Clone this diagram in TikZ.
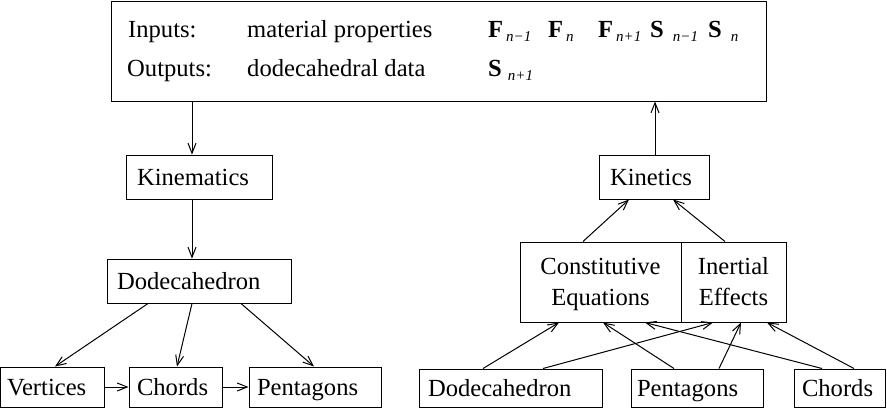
\documentclass[tikz,border=0pt]{standalone}
\usepackage{fontspec}
\setmainfont{Liberation Serif}
\usetikzlibrary{arrows.meta,calc}
\newcommand{\fs}{\fontsize{24.6}{31}\selectfont}
\newcommand{\subt}[1]{\raisebox{-4.5pt}{\fontsize{15}{15}\selectfont\itshape #1}}
\begin{document}
\begin{tikzpicture}[x=1pt,y=-1pt,
  box/.style={draw, line width=1pt, inner ysep=0pt, font=\fs},
  one/.style={text height=16.5pt, text depth=0pt},
  two/.style={text height=16.5pt, text depth=31pt, align=center, inner xsep=0pt},
  lbl/.style={anchor=base west, inner sep=0pt, font=\fs},
  arr/.style={line width=1pt, -{Straight Barb[length=10pt,width=8pt]}}]
\useasboundingbox (0,0) rectangle (887,408);

% top box
\node[box, minimum width=655pt, minimum height=100pt, inner sep=0pt] (top) at (438.5,51) {};
\node[lbl] (in) at (128,37) {Inputs:};
\node[lbl] (mp) at (247,37) {material properties};
\node[lbl] (out) at (127,76) {Outputs:};
\node[lbl] (dd) at (247,76) {dodecahedral data};
\node[lbl] (f1) at (488,37) {\textbf{F}\hspace{3pt}\subt{n−1}};
\node[lbl] (f2) at (548,37) {\textbf{F}\hspace{3pt}\subt{n}};
\node[lbl] (f3) at (598,37) {\textbf{F}\hspace{3pt}\subt{n+1}};
\node[lbl] (s1) at (650,37) {\textbf{S}\hspace{9pt}\subt{n−1}};
\node[lbl] (s2) at (708,37) {\textbf{S}\hspace{9pt}\subt{n}};
\node[lbl] (s3) at (488,76) {\textbf{S}\hspace{6pt}\subt{n+1}};

% left branch
\node[box, one, text width=124pt, inner xsep=11pt, minimum height=44pt] (kinem) at (199,177) {Kinematics};
\node[box, one, text width=164pt, inner xsep=10pt, minimum height=44pt] (dodL) at (199,281) {Dodecahedron};
\node[box, one, text width=90pt, inner xsep=7pt, minimum height=40pt] (vert) at (52,387) {Vertices};
\node[box, one, text width=77pt, inner xsep=8pt, minimum height=40pt] (chL) at (175.5,387) {Chords};
\node[box, one, text width=116pt, inner xsep=8pt, minimum height=40pt] (pentL) at (315,387) {Pentagons};

% right branch
\node[box, one, text width=88pt, inner xsep=11pt, minimum height=44pt] (kinet) at (654,177) {Kinetics};
\node[box, two, text width=161pt, minimum height=80pt] (const) at (600.5,282) {Constitutive\hspace*{7pt}\\Equations\hspace*{7pt}};
\node[box, two, text width=105pt, minimum height=80pt] (inert) at (733.5,282) {Inertial\hspace*{9pt}\\Effects\hspace*{9pt}};
\node[box, one, text width=165pt, inner xsep=9pt, minimum height=38pt] (dodR) at (510.5,388) {Dodecahedron};
\node[box, one, text width=120pt, inner xsep=6pt, minimum height=38pt] (pentR) at (697,388) {Pentagons};
\node[box, one, text width=75pt, inner xsep=8pt, minimum height=38pt] (chR) at (839.5,388) {Chords};

% left arrows
\draw[arr] ([xshift=-246.5pt]top.south) -- ([xshift=-7pt]kinem.north);
\draw[arr] ([xshift=-7pt]kinem.south) -- ([xshift=-7pt]dodL.north);
\draw[arr] ([xshift=-51pt]dodL.south) -- ([xshift=3pt]vert.north);
\draw[arr] ([xshift=-7pt]dodL.south) -- ([xshift=1.5pt]chL.north);
\draw[arr] ([xshift=42pt]dodL.south) -- ([xshift=-1pt]pentL.north);
\draw[arr] (vert.east) -- (chL.west);
\draw[arr] (chL.east) -- (pentL.west);

% right arrows
\draw[arr] ([xshift=1pt]kinet.north) -- ([xshift=216.5pt]top.south);
\draw[arr] ([xshift=-17.5pt]const.north) -- ([xshift=-25pt]kinet.south);
\draw[arr] ([xshift=-8.5pt]inert.north) -- ([xshift=19pt]kinet.south);
\draw[arr] ([xshift=-27.5pt]dodR.north) -- ([xshift=-41.5pt]const.south);
\draw[arr] ([xshift=32.5pt]dodR.north) -- ([xshift=-20.5pt]inert.south);
\draw[arr] ([xshift=-23pt]pentR.north) -- ([xshift=2.5pt]const.south);
\draw[arr] ([xshift=22pt]pentR.north) -- ([xshift=7.5pt]inert.south);
\draw[arr] ([xshift=-17.5pt]chR.north) -- ([xshift=44.5pt]const.south);
\draw[arr] ([xshift=14.5pt]chR.north) -- ([xshift=33.5pt]inert.south);
\end{tikzpicture}
\end{document}
